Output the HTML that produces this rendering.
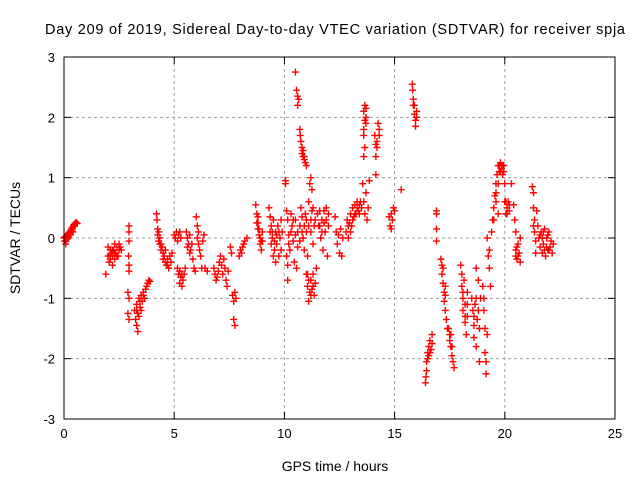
<!DOCTYPE html>
<html><head><meta charset="utf-8"><style>
body{margin:0;background:#fff}
svg{display:block;font-family:"Liberation Sans",sans-serif}
</style></head><body>
<svg id="chart" width="640" height="480" viewBox="0 0 640 480">
<rect width="640" height="480" fill="#fff"/>
<text x="45" y="34" font-size="14.5" textLength="580" lengthAdjust="spacing">Day 209 of 2019, Sidereal Day-to-day VTEC variation (SDTVAR) for receiver spja</text>
<text x="335" y="471" font-size="14" text-anchor="middle">GPS time / hours</text>
<text x="0" y="0" font-size="14" text-anchor="middle" transform="translate(20,238) rotate(-90)">SDTVAR / TECUs</text>
<g id="grid"></g>
<g id="ticks"></g>
<g id="marks"></g>
<rect x="64" y="57" width="551" height="362" fill="none" stroke="#000" stroke-width="1"/>
</svg>
<script>
const xTicks=[0,5,10,15,20,25];
const yTicks=[-3,-2,-1,0,1,2,3];
const points=[
[0,0],[0.03,-0.05],[0.05,0.02],[0.08,-0.1],[0.1,0.03],[0.13,-0.02],[0.15,0.05],[0.18,0],[0.2,0.08],[0.23,0.05],[0.25,0.1],[0.28,0.08],[0.3,0.13],[0.33,0.12],[0.35,0.16],[0.38,0.15],[0.4,0.18],[0.43,0.2],[0.45,0.22],[0.5,0.24],[0.55,0.26],[0.6,0.24],
[1.9,-0.6],[2.0,-0.15],[2.0,-0.3],[2.05,-0.4],[2.1,-0.2],[2.1,-0.35],[2.15,-0.25],[2.2,-0.45],[2.2,-0.3],[2.25,-0.2],[2.3,-0.35],[2.3,-0.1],[2.35,-0.25],[2.4,-0.15],[2.45,-0.3],[2.5,-0.1],[2.55,-0.15],[2.6,-0.2],
[2.95,0.2],[2.95,0.1],[2.95,-0.05],[2.93,-0.3],[2.95,-0.45],[2.95,-0.55],[2.9,-0.9],[2.95,-1.0],[2.9,-1.25],[2.95,-1.35],
[3.2,-1.2],[3.25,-1.35],[3.3,-1.1],[3.3,-1.45],[3.35,-1.55],[3.35,-1.25],[3.4,-1.0],[3.4,-1.3],[3.45,-1.15],[3.5,-0.95],[3.5,-1.2],[3.55,-1.05],[3.6,-0.9],[3.65,-1.0],[3.7,-0.85],[3.75,-0.8],[3.8,-0.75],[3.85,-0.7],[3.9,-0.72],
[4.2,0.4],[4.22,0.3],[4.25,0.15],[4.25,0.05],[4.3,0.1],[4.3,-0.05],[4.35,0],[4.4,-0.1],[4.4,-0.2],[4.45,-0.15],[4.5,-0.25],
[4.55,-0.3],[4.6,-0.4],[4.6,-0.2],[4.65,-0.45],[4.7,-0.35],[4.75,-0.5],[4.8,-0.3],[4.85,-0.4],[4.9,-0.25],
[5.0,0.05],[5.05,0],[5.1,0.1],[5.15,-0.05],[5.2,0.05],[5.25,0.1],[5.3,0],[5.15,-0.5],[5.2,-0.6],[5.25,-0.75],[5.3,-0.65],[5.35,-0.8],[5.4,-0.7],[5.45,-0.6],[5.5,-0.5],
[5.55,0.1],[5.6,0],[5.65,-0.1],[5.7,0.05],[5.75,-0.2],[5.8,-0.1],[5.85,-0.35],[5.9,-0.5],[5.95,-0.55],
[6.0,0.35],[6.05,0.2],[6.05,0],[6.1,-0.1],[6.1,0.1],[6.15,-0.2],[6.2,-0.3],[6.25,-0.5],[6.3,-0.05],[6.35,0.05],[6.4,-0.5],[6.5,-0.55],
[6.8,-0.5],[6.85,-0.6],[6.9,-0.7],[6.95,-0.65],[7.0,-0.55],[7.05,-0.4],[7.1,-0.3],[7.15,-0.45],[7.2,-0.6],[7.25,-0.35],[7.3,-0.5],[7.35,-0.7],[7.4,-0.8],[7.45,-0.55],
[7.55,-0.15],[7.6,-0.25],[7.65,-0.95],[7.7,-1.05],[7.75,-0.9],[7.7,-1.35],[7.75,-1.45],[7.8,-1.0],
[7.95,-0.3],[8.0,-0.2],[8.05,-0.25],[8.1,-0.15],[8.15,-0.1],[8.2,-0.05],[8.3,0],
[8.7,0.55],[8.75,0.4],[8.75,0.25],[8.8,0.15],[8.8,0.35],[8.85,0.05],[8.9,0],[8.9,-0.1],[8.95,-0.2],[9.0,0.1],[9.0,-0.05],
[9.3,0.5],[9.35,0.35],[9.35,0.1],[9.4,-0.1],[9.4,0.2],[9.45,0],[9.5,-0.3],[9.5,0.3],[9.55,-0.2],[9.6,0.1],[9.6,-0.4],[9.65,-0.1],[9.7,0.2],[9.75,-0.3],[9.8,0],[9.85,0.3],[9.9,0.1],
[10.05,0.95],[10.05,0.9],[10.1,0.45],[10.15,0.3],[10.1,-0.3],[10.15,-0.45],[10.15,-0.7],[10.2,0.05],[10.25,-0.2],[10.3,0.4],[10.35,0.2],[10.4,-0.05],[10.45,-0.4],[10.5,0.3],[10.55,-0.5],[10.6,0.1],
[10.5,2.75],[10.55,2.45],[10.6,2.35],[10.6,2.2],[10.65,2.3],[10.7,1.8],[10.72,1.7],[10.75,1.6],[10.8,1.5],[10.8,1.4],[10.85,1.35],[10.9,1.3],[10.95,1.25],[11.0,1.2],
[10.7,0.2],[10.75,0.5],[10.8,0.35],[10.85,0],[10.9,-0.2],[10.95,0.4],[11.0,0.1],[11.05,-0.3],[11.1,0.6],[11.15,0.9],[11.2,1.0],[11.25,0.8],[11.2,0.3],[11.3,0.5],[11.3,-0.1],[11.35,0.2],
[11.0,-0.6],[11.05,-0.8],[11.1,-1.05],[11.15,-0.9],[11.2,-0.7],[11.25,-0.85],[11.3,-0.6],[11.35,-0.95],[11.4,-0.75],[11.45,-0.5],
[11.5,0.4],[11.55,0.2],[11.6,0.45],[11.65,0],[11.7,0.3],[11.75,-0.2],[11.8,0.45],[11.85,0.1],[11.9,0.5],[11.95,-0.3],[12.0,0.2],
[12.3,0.35],[12.35,0.1],[12.4,-0.1],[12.45,0.05],[12.5,-0.25],[12.55,0.15],[12.6,-0.3],[12.65,0],
[12.8,0.1],[12.85,0.3],[12.9,0],[12.95,0.25],[13.0,0.4],[13.05,0.2],[13.1,0.5],[13.15,0.35],[13.2,0.55],[13.25,0.4],[13.3,0.6],[13.35,0.45],[13.4,0.55],
[13.55,0.9],[13.6,0.6],[13.65,0.4],[13.7,0.75],[13.75,0.3],[13.8,0.5],[13.85,0.95],
[13.6,2.1],[13.65,2.2],[13.65,1.95],[13.7,2.15],[13.6,1.8],[13.6,1.7],[13.65,1.5],[13.6,1.35],
[14.1,1.7],[14.15,1.55],[14.2,1.5],[14.15,1.35],[14.25,1.9],[14.3,1.8],[14.3,1.7],[14.15,1.05],
[14.75,0.35],[14.8,0.2],[14.85,0.4],[14.9,0.3],[14.95,0.5],[15.0,0.45],[14.85,0.15],
[15.3,0.8],
[15.8,2.55],[15.82,2.45],[15.85,2.3],[15.85,2.2],[15.9,2.05],[15.95,1.95],[16.0,2.1],[15.95,1.85],[16.0,2.0],
[16.4,-2.4],[16.42,-2.3],[16.45,-2.2],[16.45,-2.05],[16.5,-1.9],[16.55,-1.8],[16.6,-1.7],[16.55,-1.95],[16.65,-1.85],[16.7,-1.6],
[16.9,0.45],[16.9,0.4],[16.9,0.15],[16.9,-0.05],
[17.1,-0.35],[17.15,-0.45],[17.15,-0.6],[17.2,-0.75],[17.25,-0.9],[17.25,-1.05],[17.3,-1.2],[17.35,-1.35],[17.3,-0.95],[17.4,-1.5],
[17.45,-1.5],[17.5,-1.7],[17.55,-1.8],[17.6,-1.95],[17.65,-2.05],[17.7,-2.15],[17.55,-1.6],
[18.0,-0.45],[18.05,-0.6],[18.05,-0.8],[18.1,-1.0],[18.1,-1.2],[18.15,-0.7],[18.2,-1.4],[18.2,-1.1],[18.25,-1.6],[18.3,-0.9],[18.3,-1.3],
[18.5,-1.0],[18.55,-1.2],[18.6,-1.45],[18.6,-1.65],[18.65,-1.1],[18.7,-1.8],[18.75,-1.35],[18.7,-0.5],[18.8,-0.7],[18.85,-1.5],[18.85,-2.05],
[19.0,-0.8],[19.05,-1.0],[19.05,-1.2],[19.1,-1.5],[19.1,-1.9],[19.15,-2.05],[19.15,-2.25],[19.2,-1.6],
[19.2,0.0],[19.25,-0.3],[19.3,-0.5],[19.3,-0.2],[19.35,-0.8],[19.4,0.1],[19.45,0.3],[19.5,0.5],[19.55,0.7],[19.6,0.9],[19.65,1.05],[19.7,1.2],[19.75,1.1],[19.8,1.25],[19.85,1.15],[19.9,1.2],[19.95,1.1],[19.6,0.6],[19.7,0.4],
[20.0,0.9],[20.05,0.6],[20.1,0.5],[20.15,0.6],[20.2,0.55],[20.3,0.9],[20.05,0.4],
[20.4,0.55],[20.45,0.3],[20.5,0.1],[20.5,-0.2],[20.55,-0.35],[20.6,-0.1],[20.65,-0.25],[20.7,-0.4],[20.7,0],
[21.25,0.85],[21.3,0.75],[21.3,0.5],[21.35,0.3],[21.35,0.1],[21.4,-0.05],[21.4,-0.25],[21.45,0.45],
[21.5,0.2],[21.55,0],[21.6,-0.15],[21.65,0.1],[21.7,-0.25],[21.75,-0.1],[21.8,0.15],[21.85,-0.3],[21.9,0],[21.95,-0.2],[22.0,0.1],[22.05,-0.15],[22.1,-0.05],[22.15,-0.25],[22.2,-0.1]
];
const extraPoints=[
[0.1,-0.05],[0.2,0.02],[0.3,0.05],[0.4,0.1],[2.1,-0.28],[2.2,-0.2],[2.3,-0.25],[2.4,-0.3],[2.5,-0.2],
[3.3,-1.2],[3.45,-1.05],[3.6,-0.95],[4.35,-0.1],[4.5,-0.35],[4.7,-0.45],[5.25,-0.55],[5.35,-0.6],[5.6,-0.15],[5.7,-0.25],
[8.8,0.25],[8.85,0.15],[8.95,-0.05],[9.45,0.1],[9.55,-0.05],[9.65,0.05],[9.75,0.1],[9.85,-0.2],
[10.2,-0.1],[10.3,0.1],[10.4,0.3],[10.5,0.05],[10.6,-0.15],[10.7,-0.05],[10.8,0.1],[10.9,0.2],[11.0,0.3],[11.1,0.2],[11.2,0.1],[11.25,0.45],[11.4,0.3],
[11.6,0.2],[11.7,0.1],[11.8,0.25],[11.9,0.3],[12.0,0.4],[11.1,-0.7],[11.2,-0.95],[11.3,-0.8],[11.05,-0.6],
[12.9,0.2],[13.0,0.1],[13.1,0.3],[13.2,0.4],[13.3,0.5],[13.4,0.4],[13.45,0.6],[13.5,0.5],
[10.85,1.45],[10.9,1.35],[13.7,2.0],[13.7,1.9],[14.2,1.6],[15.9,2.2],
[16.5,-2.0],[16.6,-1.9],[16.7,-1.75],[17.2,-0.5],[17.3,-0.8],[17.5,-1.6],[17.6,-1.8],
[18.1,-0.9],[18.2,-1.3],[18.3,-1.1],[18.6,-1.3],[18.7,-1.0],[18.8,-1.2],[18.9,-1.0],
[19.5,0.3],[19.6,0.75],[19.7,0.9],[19.75,1.2],[19.8,1.1],[19.85,1.2],[19.9,1.05],[19.95,1.2],[20.0,0.6],[20.1,0.4],[20.2,0.45],
[20.5,-0.3],[20.6,-0.3],[20.55,-0.15],[21.3,0.2],[21.6,0.05],[21.7,0.0],[21.8,-0.2],[21.9,-0.15],[22.0,-0.2],[21.75,0.1],[21.95,0.05]
];
const X0=64,X1=615,Y0=419,Y1=57;
function xs(t){return X0+(t-0)/(25-0)*(X1-X0);}
function ys(v){return Y0-(v+3)/6*(Y0-Y1);}
const NS="http://www.w3.org/2000/svg";
const grid=document.getElementById('grid'),ticks=document.getElementById('ticks'),marks=document.getElementById('marks');
function mk(tag,attrs,parent){const e=document.createElementNS(NS,tag);for(const k in attrs)e.setAttribute(k,attrs[k]);parent.appendChild(e);return e;}
xTicks.forEach(t=>{const x=xs(t);
 if(t>0&&t<25){const g=mk('line',{x1:x,x2:x,y1:Y1,y2:Y0,stroke:'#a0a0a0','stroke-dasharray':'3,3'},grid);
 
 }
 mk('line',{x1:x,x2:x,y1:Y0,y2:Y0-7,stroke:'#000'},ticks);
 mk('line',{x1:x,x2:x,y1:Y1,y2:Y1+7,stroke:'#000'},ticks);
 const l=mk('text',{x:x,y:Y0+19,'font-size':'13','text-anchor':'middle'},ticks);l.textContent=t;
 
 
});
yTicks.forEach(v=>{const y=ys(v);
 if(v>-3&&v<3){const g=mk('line',{x1:X0,x2:X1,y1:y,y2:y,stroke:'#a0a0a0','stroke-dasharray':'3,3'},grid);
 
 }
 mk('line',{x1:X0,x2:X0+7,y1:y,y2:y,stroke:'#000'},ticks);
 mk('line',{x1:X1,x2:X1-7,y1:y,y2:y,stroke:'#000'},ticks);
 const l=mk('text',{x:X0-9,y:y+5,'font-size':'13','text-anchor':'end'},ticks);l.textContent=v;
 
 
});
points.concat(extraPoints).forEach(p=>{const x=xs(p[0]),y=ys(p[1]);
 const m=mk('path',{d:`M${x-3.5},${y}H${x+3.5}M${x},${y-3.5}V${y+3.5}`,stroke:'#ff0000','stroke-width':'1.4',fill:'none'},marks);
 
 
});
</script>
</body></html>
